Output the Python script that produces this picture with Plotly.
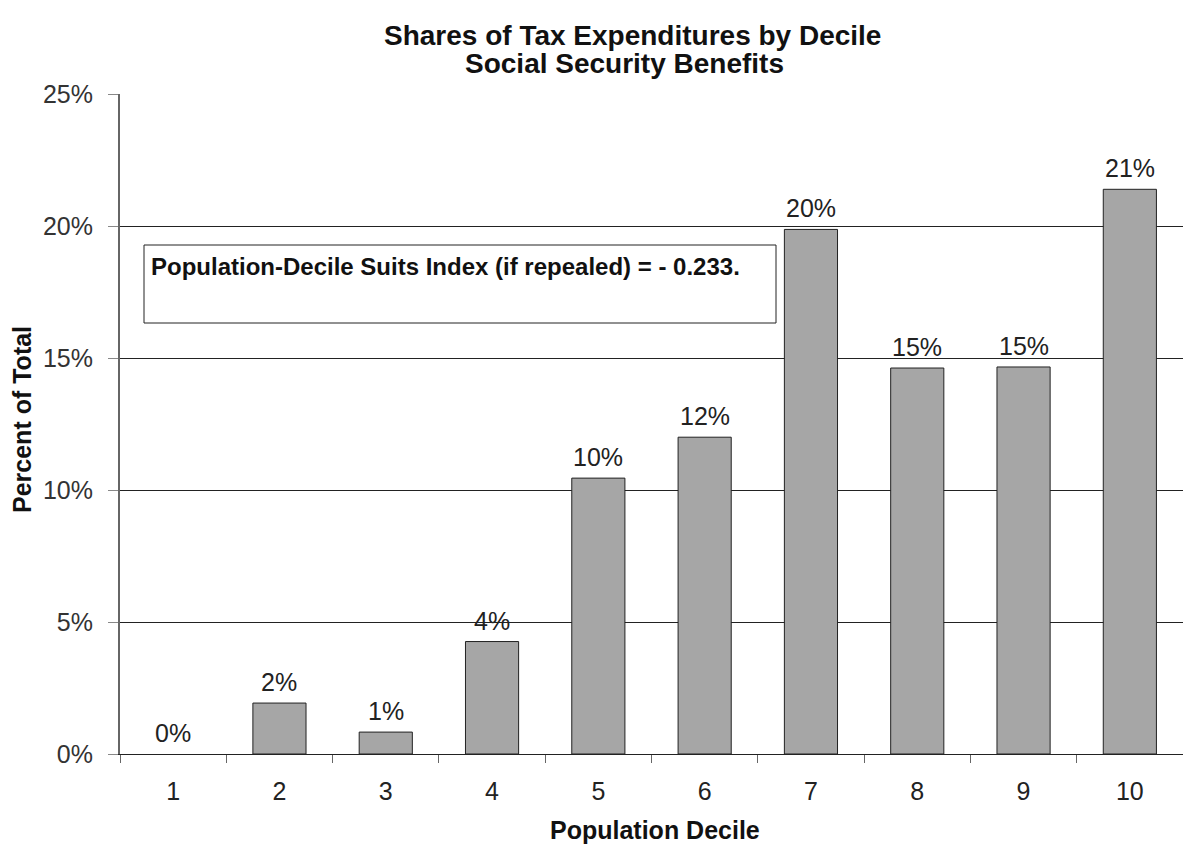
import plotly.graph_objects as go

deciles = ["1", "2", "3", "4", "5", "6", "7", "8", "9", "10"]
shares = [0.0, 1.93, 0.83, 4.26, 10.45, 12.0, 19.87, 14.62, 14.66, 21.39]
labels = ["0%", "2%", "1%", "4%", "10%", "12%", "20%", "15%", "15%", "21%"]
y_ticks = [0, 5, 10, 15, 20, 25]
y_tick_text = ["0%", "5%", "10%", "15%", "20%", "25%"]

FONT = "Liberation Sans, Arial, sans-serif"

# plot-area geometry in pixels (for paper-coordinate helpers)
L, R, T, B = 120, 1183, 94, 754
PW, PH = R - L, B - T


def px(x):
    return (x - L) / PW


def py(y):
    return (B - y) / PH


fig = go.Figure()
fig.add_trace(go.Bar(
    x=deciles, y=shares,
    marker=dict(color="#a6a6a6",
                line=dict(color="#222", width=[0 if v == 0 else 1 for v in shares])),
    width=0.5, cliponaxis=False, hoverinfo="x+y",
))

for i, (v, t) in enumerate(zip(shares, labels)):
    fig.add_annotation(x=i, y=v, xref="x", yref="y", text=t, showarrow=False,
                       yanchor="middle", yshift=21,
                       font=dict(family=FONT, size=25, color="#222"))

fig.update_layout(
    width=1183, height=846,
    margin=dict(l=L, r=1183 - R, t=T, b=846 - B),
    paper_bgcolor="white", plot_bgcolor="white",
    showlegend=False,
    xaxis=dict(
        type="category", range=[-0.5, 9.5], tickson="boundaries",
        ticks="outside", ticklen=8,
        tickcolor="#666", showline=True, linecolor="#222", linewidth=1,
        showgrid=False, ticklabelstandoff=15,
        tickfont=dict(family=FONT, size=25, color="#222"),
    ),
    yaxis=dict(
        range=[0, 25], tickvals=y_ticks, ticktext=y_tick_text,
        ticks="outside", ticklen=10, tickcolor="#888",
        showline=True, linecolor="#666", linewidth=2,
        showgrid=True, gridcolor="#222", gridwidth=1,
        zeroline=False, ticklabelstandoff=10,
        tickfont=dict(family=FONT, size=25, color="#333"),
    ),
    bargap=0.5,
)

# titles
fig.add_annotation(xref="paper", yref="paper", x=px(632), y=py(35),
                   xanchor="center", yanchor="middle", showarrow=False,
                   text="<b>Shares of Tax Expenditures by Decile</b>",
                   font=dict(family=FONT, size=28, color="#111"))
fig.add_annotation(xref="paper", yref="paper", x=px(624), y=py(63),
                   xanchor="center", yanchor="middle", showarrow=False,
                   text="<b>Social Security Benefits</b>",
                   font=dict(family=FONT, size=28, color="#111"))
fig.add_annotation(xref="paper", yref="paper", x=px(655), y=py(830),
                   xanchor="center", yanchor="middle", showarrow=False,
                   text="<b>Population Decile</b>",
                   font=dict(family=FONT, size=25, color="#111"))
fig.add_annotation(xref="paper", yref="paper", x=px(22), y=py(420),
                   xanchor="center", yanchor="middle", showarrow=False,
                   textangle=-90, text="<b>Percent of Total</b>",
                   font=dict(family=FONT, size=25, color="#111"))

# text box
fig.add_shape(type="rect", xref="paper", yref="paper",
              x0=px(144), x1=px(776), y0=py(323), y1=py(245),
              line=dict(color="#222", width=1), fillcolor="white", layer="above")
fig.add_annotation(xref="paper", yref="paper", x=px(149), y=py(266),
                   xanchor="left", yanchor="middle", showarrow=False,
                   text="<b>Population-Decile Suits Index (if repealed) = - 0.233.</b>",
                   font=dict(family=FONT, size=24, color="#111"))

fig.write_html("out.html")
